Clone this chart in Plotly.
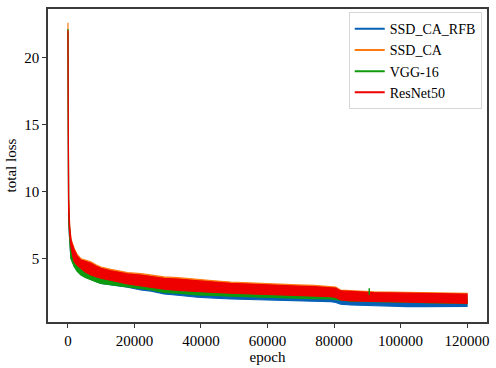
import plotly.graph_objects as go

# ---- data ----
epochs = [0, 200, 500, 900, 1400, 1900, 2800, 3900, 5200, 6900, 8400, 9900, 12900, 15900,
          17900, 21900, 25000, 28900, 33000, 38900, 44000, 48900, 54000, 58900, 64000, 69000,
          74000, 79000, 80500, 82000, 85000, 88000, 92000, 97000, 102000, 107000, 112000,
          116000, 120000]

# band of each noisy loss curve: upper / lower envelope
rfb_upper = [21.9, 8.6, 7.0, 5.8, 5.4, 5.0, 4.6, 4.3, 4.1, 3.9, 3.75, 3.6, 3.45, 3.35, 3.3,
             3.1, 3.0, 2.85, 2.75, 2.6, 2.55, 2.5, 2.45, 2.4, 2.36, 2.32, 2.3, 2.27, 2.22,
             2.05, 1.98, 1.95, 1.92, 1.9, 1.88, 1.87, 1.86, 1.86, 1.86]
rfb_lower = [21.8, 8.0, 6.5, 5.05, 4.75, 4.45, 4.1, 3.82, 3.63, 3.44, 3.3, 3.16, 3.02, 2.93,
             2.87, 2.66, 2.58, 2.37, 2.27, 2.12, 2.06, 1.99, 1.96, 1.92, 1.88, 1.84, 1.82,
             1.79, 1.74, 1.6, 1.54, 1.5, 1.47, 1.44, 1.42, 1.42, 1.41, 1.42, 1.44]

ca_upper = [22.64, 9.6, 7.5, 6.5, 6.1, 5.75, 5.3, 5.0, 4.9, 4.76, 4.55, 4.38, 4.2, 4.08, 3.96,
            3.88, 3.76, 3.64, 3.58, 3.43, 3.35, 3.25, 3.19, 3.12, 3.08, 3.04, 3.0, 2.92, 2.88,
            2.66, 2.61, 2.57, 2.53, 2.51, 2.49, 2.47, 2.44, 2.44, 2.42]
ca_lower = [22.0, 8.6, 7.0, 6.0, 5.3, 4.85, 4.55, 4.33, 4.05, 3.83, 3.7, 3.59, 3.41, 3.27,
            3.16, 3.01, 2.9, 2.77, 2.69, 2.59, 2.53, 2.47, 2.41, 2.34, 2.32, 2.29, 2.25, 2.21,
            2.15, 1.97, 1.89, 1.87, 1.84, 1.82, 1.8, 1.78, 1.76, 1.74, 1.72]

vgg_upper = [22.16, 9.0, 7.2, 6.2, 5.6, 5.2, 4.9, 4.6, 4.4, 4.2, 4.05, 3.9, 3.75, 3.6, 3.5,
             3.35, 3.25, 3.1, 3.02, 2.9, 2.85, 2.8, 2.74, 2.66, 2.64, 2.6, 2.56, 2.52, 2.46,
             2.3, 2.22, 2.2, 2.17, 2.15, 2.13, 2.11, 2.09, 2.07, 2.05]
vgg_lower = [21.8, 8.0, 6.5, 5.0, 4.7, 4.4, 4.05, 3.78, 3.6, 3.41, 3.28, 3.16, 3.04, 2.95,
             2.9, 2.76, 2.66, 2.49, 2.42, 2.29, 2.26, 2.2, 2.14, 2.1, 2.07, 2.04, 2.01, 1.99,
             1.95, 1.9, 1.82, 1.8, 1.77, 1.75, 1.73, 1.71, 1.69, 1.67, 1.65]
vgg_spike_epoch = [90600, 90600]
vgg_spike_loss = [2.3, 2.79]

res_upper = [22.07, 9.5, 7.4, 6.4, 6.0, 5.65, 5.2, 4.9, 4.8, 4.66, 4.45, 4.28, 4.1, 3.98,
             3.86, 3.78, 3.66, 3.54, 3.48, 3.34, 3.26, 3.16, 3.1, 3.04, 3.0, 2.96, 2.92,
             2.84, 2.8, 2.59, 2.54, 2.5, 2.46, 2.44, 2.42, 2.4, 2.37, 2.37, 2.35]
res_lower = [21.9, 8.5, 6.9, 5.9, 5.2, 4.78, 4.5, 4.28, 4.0, 3.78, 3.65, 3.54, 3.36, 3.22,
             3.11, 2.96, 2.85, 2.72, 2.64, 2.54, 2.48, 2.42, 2.36, 2.29, 2.27, 2.24, 2.2,
             2.16, 2.1, 1.92, 1.84, 1.82, 1.79, 1.77, 1.75, 1.73, 1.71, 1.69, 1.67]

series_names = ["SSD_CA_RFB", "SSD_CA", "VGG-16", "ResNet50"]
series_colors = ["#0760B6", "#FF7A10", "#0E9A0E", "#EE0000"]

x_tick_vals = [0, 20000, 40000, 60000, 80000, 100000, 120000]
x_tick_text = ["0", "20000", "40000", "60000", "80000", "100000", "120000"]
y_tick_vals = [5, 10, 15, 20]
y_tick_text = ["5", "10", "15", "20"]

bands = [(rfb_upper, rfb_lower), (ca_upper, ca_lower), (vgg_upper, vgg_lower),
         (res_upper, res_lower)]

FONT = "Liberation Serif, Times New Roman, Times, serif"
FS = 15
fig = go.Figure()

band_traces = []
spike_trace = None
for name, color, (up, lo) in zip(series_names, series_colors, bands):
    band_traces.append(go.Scatter(
        x=epochs + epochs[::-1], y=up + lo[::-1], mode="lines", fill="toself",
        fillcolor=color, line=dict(color=color, width=1.2), showlegend=False,
        hoverinfo="skip"))
    if name == "VGG-16":
        spike_trace = go.Scatter(x=vgg_spike_epoch, y=vgg_spike_loss, mode="lines",
                                 line=dict(color=color, width=1.5), showlegend=False,
                                 hoverinfo="skip")

for t in band_traces:
    fig.add_trace(t)
fig.add_trace(spike_trace)

for name, color in zip(series_names, series_colors):
    fig.add_trace(go.Scatter(x=[None], y=[None], mode="lines", name=name,
                             line=dict(color=color, width=2)))

axis_common = dict(showline=True, linecolor="#3a3a3a", linewidth=1.5, mirror=True,
                   ticks="outside", ticklen=4, tickwidth=1, tickcolor="#333",
                   showgrid=False, zeroline=False, automargin=False,
                   tickfont=dict(family=FONT, size=FS, color="black"))

fig.update_layout(
    width=496, height=368,
    margin=dict(l=48, r=9, t=9, b=46, autoexpand=False),
    paper_bgcolor="white", plot_bgcolor="white",
    font=dict(family=FONT, size=FS, color="black"),
    xaxis=dict(range=[-6000, 126000], tickvals=x_tick_vals, ticktext=x_tick_text,
               title=dict(text="epoch", font=dict(family=FONT, size=FS), standoff=2),
               **axis_common),
    yaxis=dict(range=[0.27, 23.66], tickvals=y_tick_vals, ticktext=y_tick_text,
               title=dict(text="total loss", font=dict(family=FONT, size=FS), standoff=4),
               **axis_common),
    legend=dict(x=0.988, y=0.99, xanchor="right", yanchor="top",
                bgcolor="rgba(255,255,255,0.85)", bordercolor="#d6d6d6", borderwidth=1,
                font=dict(family=FONT, size=14, color="black"),
                tracegroupgap=0, itemwidth=30),
    showlegend=True,
)

fig.write_html("out.html", config={"displayModeBar": False},
               post_script="document.body.style.margin='0';document.body.style.padding='0';")
